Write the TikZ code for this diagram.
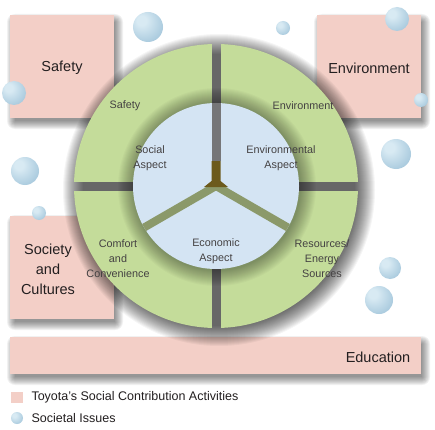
\documentclass[tikz,border=0pt]{standalone}
\usepackage{fontspec}
\setmainfont{Liberation Sans}

\definecolor{activity}{RGB}{243,207,199}
\definecolor{ringgreen}{RGB}{196,220,154}
\definecolor{aspectblue}{RGB}{212,228,243}
\definecolor{gapolive}{RGB}{139,153,106}
\definecolor{gapgrey}{RGB}{118,118,120}
\definecolor{corebrown}{RGB}{108,90,28}
\definecolor{labeltext}{RGB}{35,31,32}
\definecolor{bubhi}{RGB}{216,234,243}
\definecolor{bubmid}{RGB}{172,204,223}
\definecolor{bubdark}{RGB}{128,168,196}

\pgfdeclareradialshading{bubbleshade}{\pgfpoint{-12bp}{12bp}}{color(0bp)=(bubhi); color(8bp)=(bubhi); color(32bp)=(bubmid); color(58bp)=(bubdark); color(75bp)=(bubdark)}

% soft shadow under a box, offset down and to the right
\def\boxshadow(#1,#2)(#3,#4){\foreach \e in {0,...,8} \fill[black, opacity=0.055, rounded corners=\e] (#1+5-\e, #2-3-\e) rectangle (#3+1+\e, #4-7+\e);}

\tikzset{
	activitybox/.style={fill=activity},
	bigtext/.style={font=\fontsize{14.5}{20}\selectfont, text=labeltext, align=center},
	ringtext/.style={font=\fontsize{10.8}{15}\selectfont, text=labeltext!85, align=center},
	legendtext/.style={font=\fontsize{12.5}{15}\selectfont, text=labeltext, anchor=west},
	bubble/.style={shading=bubbleshade}
}

\begin{document}
\begin{tikzpicture}[x=1pt, y=1pt]
			%%%%% START %%%%%
			
			\useasboundingbox[fill=white] (0, 0) rectangle (435, 429);
			
			\boxshadow(10, 311)(114, 414)
			\boxshadow(317, 311)(421, 414)
			\boxshadow(10, 110)(114, 213)
			\boxshadow(10, 55)(421, 92)
			\fill[activitybox] (10, 311) rectangle (114, 414);
			\fill[activitybox] (317, 311) rectangle (421, 414);
			\fill[activitybox] (10, 110) rectangle (114, 213);
			\fill[activitybox] (10, 55) rectangle (421, 92);
			
			\begin{scope}[shift={(216, 243)}]
				% shadow of the whole ring, seen through the gaps
				\foreach \r in {136,...,156}
					\fill[black, opacity=0.038] (3, -4) circle (\r);
				
				\begin{scope}
					\clip (0, 0) circle (142);
					\fill[ringgreen] (4.5, 4.5) rectangle (150, 150);
					\fill[ringgreen] (-4.5, 4.5) rectangle (-150, 150);
					\fill[ringgreen] (-4.5, -4.5) rectangle (-150, -150);
					\fill[ringgreen] (4.5, -4.5) rectangle (150, -150);
				\end{scope}
				
				% halo round the aspects
				\foreach \r in {84,...,99}
					\fill[black, opacity=0.025] (1, -1) circle (\r);
				\fill[aspectblue] (0, 0) circle (83);
				
				\fill[gapolive, rotate=210] (0, -4) rectangle (83, 4);
				\fill[gapolive, rotate=330] (0, -4) rectangle (83, 4);
				\fill[gapgrey] (-4.5, 25) rectangle (4.5, 83);
				\fill[corebrown] (-4.5, 25) -- (4.5, 25) -- (4.5, 5) -- (12, -1) -- (-12, -1) -- (-4.5, 5) -- cycle;
			\end{scope}
			
			\node[bigtext] (safety) at (62, 361) {Safety};
			\node[bigtext] (environment) at (369, 361) {Environment};
			\node[bigtext] (society) at (48, 160) {Society\\and\\Cultures};
			\node[bigtext] (education) at (378, 72) {Education};
			
			\node[ringtext] (ringsafety) at (125, 323) {Safety};
			\node[ringtext] (ringenvironment) at (303, 323) {Environment};
			\node[ringtext] (socialaspect) at (150, 271) {Social\\Aspect};
			\node[ringtext] (environmentalaspect) at (281, 271) {Environmental\\Aspect};
			\node[ringtext] (economicaspect) at (216, 178) {Economic\\Aspect};
			\node[ringtext] (comfort) at (118, 170) {Comfort\\and\\Convenience};
			\node[ringtext] (resources) at (322, 170) {Resources/\\Energy\\Sources};
			
			\shade[bubble] (148, 402) circle (15);
			\shade[bubble] (14, 336) circle (12);
			\shade[bubble] (25, 258) circle (14);
			\shade[bubble] (39, 216) circle (7);
			\shade[bubble] (283, 401) circle (7);
			\shade[bubble] (397, 410) circle (12);
			\shade[bubble] (421, 329) circle (7);
			\shade[bubble] (396, 275) circle (15);
			\shade[bubble] (390, 161) circle (11);
			\shade[bubble] (379, 129) circle (14);
			
			\fill[activity] (11, 26) rectangle (23, 37);
			\node[legendtext] (legendactivity) at (28, 31.5) {Toyota's Social Contribution Activities};
			\shade[bubble] (17, 11) circle (6);
			\node[legendtext] (legendissue) at (28, 11) {Societal Issues};
			
			%%%%% END %%%%%
\end{tikzpicture}
\end{document}
